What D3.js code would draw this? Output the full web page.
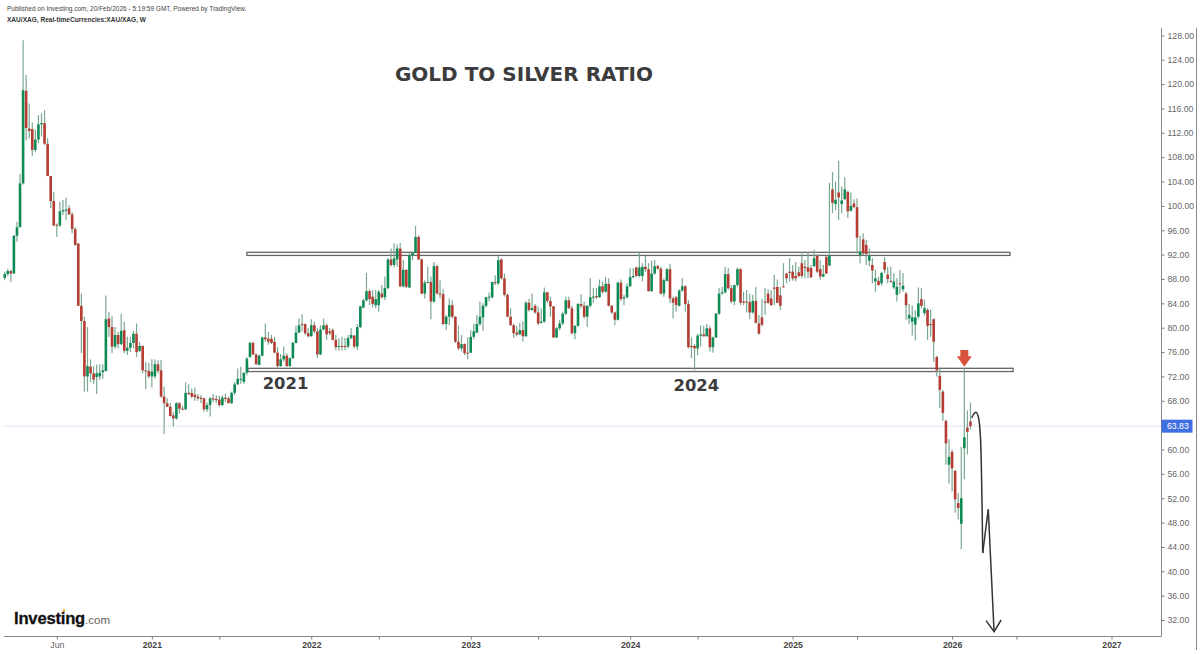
<!DOCTYPE html>
<html>
<head>
<meta charset="utf-8">
<script src="https://cdn.jsdelivr.net/npm/d3@7"></script>
<style>
  html, body { margin: 0; padding: 0; background: #fff; }
  svg { display: block; }
</style>
</head>
<body>
<div id="chart"></div>
<script>
// weekly XAU/XAG candles, first week is 3 Feb 2020
const opens = [
  88.2,88.8,89.3,88.9,95.1,96.5,103.7,118.9,112.7,112.6,
  109.2,110.9,113.4,113.6,110.2,104.9,100.8,96.9,96.8,99.1,
  99.2,99.6,98.6,96.2,93.8,83.6,81.1,72.0,73.6,72.5,
  71.9,72.0,72.7,72.9,81.5,80.1,76.9,78.8,77.3,79.6,
  76.2,76.7,77.5,79.0,76.2,77.0,73.0,72.9,72.0,72.0,
  74.0,73.0,68.7,67.6,67.0,65.6,65.1,67.6,66.7,66.6,
  69.3,69.3,69.0,68.7,68.5,68.4,66.6,67.3,68.4,68.3,
  68.2,67.3,68.5,68.4,67.6,69.3,70.7,71.5,71.1,72.6,
  75.2,77.5,75.6,73.9,75.4,78.4,78.2,78.2,77.7,75.9,
  73.7,74.8,75.4,73.7,75.0,77.5,79.2,80.6,80.6,79.1,
  78.6,80.4,79.4,75.6,79.7,80.4,79.4,79.6,78.0,76.9,
  77.0,77.0,76.9,78.3,78.7,76.9,80.1,83.3,84.5,86.0,
  85.1,83.7,83.7,85.6,85.0,86.5,91.2,90.3,91.2,93.0,
  86.8,89.5,86.6,91.9,92.3,94.9,91.2,85.6,87.4,87.5,
  84.3,90.1,85.6,85.5,80.6,81.8,83.7,81.8,77.7,76.6,
  77.3,75.9,75.9,78.5,79.2,80.6,81.7,83.6,85.0,85.0,
  87.5,87.3,91.2,88.1,85.4,81.8,80.4,79.2,78.9,79.6,
  78.6,84.1,82.9,83.6,82.5,80.8,81.0,85.8,84.4,83.5,
  78.4,79.9,80.7,82.3,84.5,83.2,79.1,80.3,83.9,83.6,
  81.8,83.6,85.0,85.2,85.0,86.8,85.9,87.2,83.6,82.5,
  81.3,87.4,84.8,85.0,86.8,88.3,89.9,88.5,88.5,90.0,
  89.6,86.0,88.9,90.1,89.7,85.6,87.7,89.6,84.8,85.0,
  83.6,86.1,86.8,83.9,77.0,77.0,76.6,78.7,78.9,78.6,
  79.9,76.8,78.4,82.3,85.6,85.8,88.8,86.5,84.3,87.0,
  89.6,84.3,84.3,84.2,82.5,84.4,80.7,81.7,84.3,85.6,
  84.8,86.6,86.7,85.3,86.8,88.9,89.2,89.2,88.5,89.1,
  90.6,90.0,89.9,89.8,90.1,91.8,89.6,88.4,91.6,90.2,
  102.7,100.3,102.2,100.3,101.1,102.3,99.2,100.4,99.8,91.9,
  94.5,93.6,91.0,90.3,87.6,87.7,87.3,90.8,88.7,87.7,
  86.6,85.4,87.3,86.3,85.6,81.5,81.0,80.5,81.8,84.7,
  82.4,82.9,80.6,81.4,75.2,72.1,69.5,64.7,57.5,59.6,
  56.5,51.2,47.8,60.2,63.6,64.6
];
const highs = [
  89.2,89.7,89.5,95.2,97.4,105.3,127.2,121.5,116.8,113.7,
  112.5,114.9,115.2,115.7,111.1,104.9,102.3,97.1,100.7,101.0,
  101.4,100.1,99.0,96.5,93.9,85.6,81.8,80.1,74.8,73.7,
  73.9,74.0,74.0,85.3,82.6,81.9,80.1,79.3,82.3,81.0,
  78.5,78.5,79.5,80.7,77.7,77.1,74.4,74.2,74.8,74.8,
  74.6,74.7,70.3,68.4,67.6,66.2,67.8,67.8,67.2,71.0,
  70.7,70.0,70.2,69.1,68.9,68.5,67.7,68.6,69.1,68.9,
  68.8,68.9,69.2,68.7,69.5,71.1,73.3,73.6,72.7,75.2,
  77.7,77.7,75.8,75.6,78.5,80.7,79.3,78.8,78.5,76.8,
  75.7,76.9,75.8,75.1,77.7,80.3,81.5,82.2,80.7,79.9,
  81.4,81.0,79.9,80.4,81.5,80.6,79.9,79.9,78.8,78.3,
  78.5,78.3,78.8,79.9,78.8,80.6,83.6,84.7,89.0,86.3,
  86.2,86.2,86.2,87.0,88.4,91.4,93.0,93.9,93.7,93.9,
  91.1,89.6,92.2,92.5,96.7,95.2,91.4,87.8,90.0,88.4,
  90.8,90.3,87.8,86.3,82.1,84.8,84.5,81.9,80.3,78.8,
  77.4,78.4,79.6,80.7,82.1,84.3,84.0,85.1,85.8,87.6,
  88.6,91.9,91.4,88.9,85.6,83.2,80.7,80.3,80.8,81.0,
  84.4,84.7,85.6,83.9,83.5,83.2,86.6,85.9,85.1,83.6,
  80.1,81.3,82.6,85.1,85.1,83.6,80.4,84.0,85.5,84.3,
  83.7,88.1,86.5,86.5,87.9,87.6,88.3,88.1,83.7,82.6,
  87.6,87.9,85.4,87.3,89.8,89.8,90.0,92.3,90.6,91.9,
  90.6,91.0,91.1,90.3,90.0,88.1,89.8,90.5,85.1,85.2,
  86.3,88.1,87.0,84.5,78.4,77.3,79.0,80.4,80.3,80.6,
  80.3,78.5,82.4,86.5,86.7,90.0,89.8,87.0,87.1,89.9,
  89.8,85.9,86.2,85.6,85.4,86.7,82.1,84.7,86.5,86.3,
  86.2,88.7,87.9,86.7,90.6,89.0,91.4,90.3,90.8,90.0,
  92.2,91.1,92.3,90.3,92.8,92.1,91.1,90.3,91.8,103.8,
  105.6,104.0,107.4,103.2,104.7,102.5,102.2,101.1,101.2,95.1,
  95.5,94.4,93.0,91.4,89.5,88.4,89.2,91.6,90.0,90.0,
  88.9,88.1,89.5,89.0,85.9,83.9,83.7,82.9,86.6,86.5,
  84.6,83.2,83.0,81.5,75.4,73.3,69.8,64.9,61.7,60.0,
  56.6,52.8,60.4,73.3,66.4,67.7
];
const lows = [
  87.8,88.5,87.5,88.8,94.1,96.5,103.5,110.8,111.1,108.2,
  108.8,110.3,111.4,110.0,104.9,99.6,96.7,94.9,96.5,98.5,
  97.7,98.5,95.5,93.4,83.6,75.8,69.5,69.5,71.1,70.8,
  69.1,71.4,71.6,72.8,78.5,75.8,76.6,76.6,77.1,75.8,
  75.5,76.0,76.6,75.2,76.0,72.5,69.9,71.7,70.2,71.7,
  72.5,68.5,62.5,67.0,65.4,63.8,64.9,65.9,66.4,66.5,
  69.0,68.4,68.0,68.0,67.6,66.2,66.2,65.4,67.8,67.6,
  67.0,67.1,67.8,67.6,67.5,68.9,70.6,70.8,70.8,72.2,
  75.0,75.5,73.9,73.8,75.3,77.7,77.2,77.3,75.8,73.3,
  73.6,74.4,73.6,73.6,74.8,77.4,79.1,79.4,78.8,78.4,
  78.5,79.1,75.0,75.5,79.6,78.0,78.8,77.9,76.3,76.2,
  76.2,76.3,76.6,78.1,76.6,76.3,79.9,83.2,84.3,83.7,
  83.3,83.2,82.6,84.8,84.5,86.3,90.0,89.9,90.0,86.7,
  86.6,86.5,86.5,91.1,92.2,91.1,85.5,84.8,87.3,81.4,
  84.1,85.5,84.8,80.4,79.6,80.4,81.5,77.5,76.3,76.1,
  75.5,74.8,75.8,78.1,79.1,80.3,79.5,83.3,84.3,84.8,
  87.0,87.0,87.9,85.1,81.7,80.3,78.3,78.6,78.8,77.7,
  78.5,82.6,82.8,82.3,80.4,80.7,80.8,84.1,81.8,78.3,
  78.3,79.6,80.4,82.1,83.1,78.9,78.1,80.2,83.2,81.5,
  80.1,83.3,84.0,84.7,84.9,85.6,85.8,83.5,82.3,80.4,
  81.2,84.4,83.7,84.8,86.7,88.1,88.3,88.3,87.6,89.2,
  85.9,85.9,88.7,89.5,85.4,85.1,87.6,84.0,81.5,82.6,
  83.5,85.9,82.6,76.6,75.0,73.0,75.5,76.9,78.5,78.5,
  76.1,75.9,78.3,82.1,85.4,85.6,86.2,84.0,83.7,86.7,
  83.7,83.7,82.5,81.4,82.3,80.7,78.9,80.2,82.1,83.9,
  83.6,83.7,84.0,82.9,86.6,87.3,87.6,87.7,87.6,88.3,
  88.1,88.1,88.1,88.1,90.0,89.0,87.9,88.3,88.8,90.2,
  98.8,99.3,97.7,98.8,101.0,98.0,99.1,99.6,92.2,90.6,
  91.9,90.3,90.1,87.3,85.9,86.9,86.9,89.0,87.3,87.4,
  86.3,84.3,85.6,85.9,81.3,80.6,78.7,77.9,81.5,83.2,
  82.0,78.0,78.5,74.4,72.0,66.8,64.7,57.5,54.4,53.1,
  49.6,48.5,43.6,55.1,59.2,63.3
];
const closes = [
  88.8,89.3,88.9,95.1,96.5,103.7,119.0,112.8,112.3,109.2,
  110.9,113.4,113.6,110.2,104.9,100.8,96.8,96.8,99.1,99.3,
  99.4,98.6,96.2,93.6,83.6,81.1,72.0,73.7,72.5,71.5,
  72.5,72.6,73.0,81.4,80.1,76.9,78.8,77.3,79.5,76.2,
  76.7,77.5,79.0,76.0,77.0,73.0,72.9,72.0,72.8,74.0,
  72.9,68.7,67.6,67.0,65.5,65.1,67.6,66.7,66.6,69.3,
  69.1,68.7,68.6,68.4,68.3,66.6,67.3,68.4,68.2,68.1,
  67.3,68.5,68.3,67.6,69.3,70.7,71.6,71.6,72.6,74.9,
  77.5,75.6,74.0,75.4,78.4,78.1,77.7,77.5,75.9,73.7,
  74.8,75.4,73.7,75.0,77.5,79.2,80.4,80.5,79.1,78.6,
  80.4,79.4,75.6,79.7,80.4,78.9,79.1,78.0,76.8,77.0,
  76.9,76.9,78.3,78.8,76.9,80.1,83.5,84.5,86.0,84.7,
  83.9,84.7,85.9,85.0,86.5,91.2,90.3,91.4,93.0,86.8,
  89.5,86.7,91.9,92.3,94.9,91.2,85.6,87.4,87.5,84.3,
  90.1,85.6,85.5,80.6,81.8,83.7,81.8,77.7,76.6,77.3,
  75.8,75.8,78.5,79.4,80.6,81.8,83.6,85.0,85.1,87.5,
  87.3,91.1,88.1,85.4,81.8,80.4,79.1,78.9,79.6,78.6,
  84.1,82.9,83.2,82.5,80.7,81.0,85.8,84.4,83.5,78.4,
  79.9,80.7,82.3,84.5,83.2,79.1,80.3,83.9,83.6,81.8,
  83.6,85.0,85.1,85.0,86.8,85.9,87.2,83.6,82.5,81.3,
  87.4,84.7,85.0,86.8,88.3,88.5,88.5,89.9,90.0,89.6,
  86.0,88.9,90.1,89.7,85.6,87.8,89.6,84.8,84.1,83.7,
  86.1,86.8,83.9,76.8,76.8,76.6,78.7,78.9,78.6,79.9,
  76.8,78.4,82.3,85.6,85.8,88.8,86.5,84.3,87.0,89.6,
  84.1,84.1,84.2,82.5,84.4,80.8,79.0,80.5,84.1,84.1,
  83.7,86.4,84.1,83.6,86.7,88.1,89.0,88.1,88.1,88.5,
  88.5,89.8,89.2,88.3,91.4,89.2,88.4,88.8,88.9,91.8,
  100.5,101.0,101.4,100.9,102.7,99.1,100.0,99.8,94.8,92.5,
  92.2,92.1,91.8,89.4,88.1,87.0,89.0,89.5,88.0,87.6,
  87.6,86.7,87.2,86.9,83.7,82.1,81.7,81.7,84.0,83.6,
  83.2,80.3,80.5,77.7,73.0,69.8,66.0,61.0,58.8,56.9,
  51.8,50.4,52.0,62.0,62.9,63.83
];

const priceTicks = [128,124,120,116,112,108,104,100,96,92,88,84,80,76,72,68,64,60,56,52,48,44,40,36,32];
// price tick 64 sits under the last price tag, the tag covers it
const yearTicks = ["2021-01-04","2022-01-03","2023-01-02","2024-01-01","2025-01-06","2026-01-05","2027-01-04"];
const midTicks = ["2020-06-01","2021-06-07","2022-06-06","2023-06-05","2024-06-03","2025-06-02","2026-06-01"];
const lastPrice = 63.83;

// annotations, in week numbers and prices
const bandWeeks = [[79, 327.9], [79.3, 328.9]];
const bandPrices = [[92.38, 91.87], [73.33, 72.8]];
const yearNotes = ["2021", "2024"];
const noteWeeks = [91.6, 225.6];
const notePrices = [69.9, 69.6];
const sketchCurve = [[315.4,65.2],[316.2,65.9],[316.9,66.1],[317.6,65.3],[318.2,62.5],[318.6,56],[319,43]];
const sketchZig = [[319,43],[320.8,50.2],[322.7,30.1]];
const sketchHead = [[320.1,31.9],[322.7,30.1],[325,32]];
const arrowWeek = 313;
const arrowPrices = [76.0, 75.3, 73.6];

const width = 1200;
const height = 654;
const axisX = 1161.5;
const axisY = 636.5;
const week = 7 * 24 * 3600 * 1000;
const firstWeek = Date.UTC(2020, 1, 3);
const weekDate = (i) => new Date(firstWeek + i * week);

const x = d3.scaleUtc()
  .domain([weekDate(0), new Date("2027-01-04")])
  .range([4.7, 1111.5]);

const y = d3.scaleLinear()
  .domain([32, 128])
  .range([620, 35.4]);

const svg = d3.select('#chart')
  .append('svg')
  .attr('width', width)
  .attr('height', height);

const sans = "'Liberation Sans', Arial, sans-serif";

svg.append('text').attr('x', 7).attr('y', 10.5)
  .attr('font-family', sans).attr('font-size', 6.5).attr('fill', '#444')
  .text('Published on Investing.com, 20/Feb/2026 - 5:19:59 GMT, Powered by TradingView.');
svg.append('text').attr('x', 7).attr('y', 21.5)
  .attr('font-family', sans).attr('font-size', 6.55).attr('font-weight', 'bold').attr('fill', '#333')
  .text('XAU/XAG, Real-timeCurrencies:XAU/XAG, W');

// last price line
svg.append('line')
  .attr('x1', 4).attr('x2', axisX)
  .attr('y1', y(lastPrice)).attr('y2', y(lastPrice))
  .attr('stroke', '#c3cdf2').attr('stroke-width', 1).attr('stroke-dasharray', '1,1');

// support and resistance boxes
svg.append('g').selectAll('rect')
  .data(bandWeeks)
  .join('rect')
  .attr('x', d => x(weekDate(d[0])))
  .attr('width', d => x(weekDate(d[1])) - x(weekDate(d[0])))
  .attr('y', (d, i) => y(bandPrices[i][0]))
  .attr('height', (d, i) => y(bandPrices[i][1]) - y(bandPrices[i][0]))
  .attr('fill', '#fff')
  .attr('stroke', '#666')
  .attr('stroke-width', 1.3);

// candles
const candles = d3.range(closes.length);
const upColor = '#0e8a55';
const downColor = '#b43c32';

svg.append('g').selectAll('line')
  .data(candles)
  .join('line')
  .attr('x1', i => x(weekDate(i)))
  .attr('x2', i => x(weekDate(i)))
  .attr('y1', i => y(highs[i]))
  .attr('y2', i => y(lows[i]))
  .attr('stroke', '#7ba892')
  .attr('stroke-width', 1.2);

svg.append('g').selectAll('rect')
  .data(candles)
  .join('rect')
  .attr('x', i => x(weekDate(i)) - 1.3)
  .attr('width', 2.6)
  .attr('y', i => y(Math.max(opens[i], closes[i])))
  .attr('height', i => Math.max(1, Math.abs(y(opens[i]) - y(closes[i]))))
  .attr('fill', i => closes[i] >= opens[i] ? upColor : downColor);

// axes
const yAxis = d3.axisRight(y)
  .tickValues(priceTicks.filter(d => d !== 64))
  .tickFormat(d3.format('.2f'))
  .tickSize(3)
  .tickPadding(3);

const yAxisG = svg.append('g')
  .attr('transform', `translate(${axisX}, 0)`)
  .call(yAxis);
yAxisG.select('.domain').remove();
yAxisG.selectAll('line').attr('stroke', '#777');
yAxisG.selectAll('text').attr('font-family', sans).attr('font-size', 8.7).attr('fill', '#666');

const xAxis = d3.axisBottom(x)
  .tickValues(yearTicks.concat(midTicks).map(d => new Date(d)))
  .tickFormat(d => {
    const iso = d.toISOString().slice(0, 10);
    if (yearTicks.includes(iso)) return d.getUTCFullYear();
    return iso === midTicks[0] ? 'Jun' : '';
  })
  .tickSize(3)
  .tickPadding(2);

const xAxisG = svg.append('g')
  .attr('transform', `translate(0, ${axisY})`)
  .call(xAxis);
xAxisG.select('.domain').remove();
xAxisG.selectAll('line').attr('stroke', '#777');
xAxisG.selectAll('text')
  .attr('font-family', sans)
  .attr('font-size', 8.7)
  .attr('font-weight', d => d.toISOString().slice(0, 10) === midTicks[0] ? 'normal' : 'bold')
  .attr('fill', d => d.toISOString().slice(0, 10) === midTicks[0] ? '#666' : '#444');

svg.append('line').attr('x1', 4).attr('x2', axisX).attr('y1', axisY).attr('y2', axisY)
  .attr('stroke', '#888').attr('stroke-width', 1);
svg.append('line').attr('x1', axisX).attr('x2', axisX).attr('y1', 28).attr('y2', axisY)
  .attr('stroke', '#888').attr('stroke-width', 1);
svg.append('line').attr('x1', 1196.5).attr('x2', 1196.5).attr('y1', 28).attr('y2', 650)
  .attr('stroke', '#888').attr('stroke-width', 1);

// last price tag
svg.append('rect')
  .attr('x', axisX).attr('width', 31)
  .attr('y', y(lastPrice) - 6.5).attr('height', 13)
  .attr('fill', '#3f6fe0');
svg.append('text')
  .attr('x', axisX + 5.5).attr('y', y(lastPrice) + 3.2)
  .attr('font-family', sans).attr('font-size', 8.7).attr('fill', '#fff')
  .text(d3.format('.2f')(lastPrice));

// title and year notes
const heavy = "'DejaVu Sans', Verdana, sans-serif";
svg.append('text')
  .attr('x', 524).attr('y', 81)
  .attr('text-anchor', 'middle')
  .attr('font-family', heavy).attr('font-size', 20).attr('font-weight', 'bold')
  .attr('fill', '#3c3c3c')
  .text('GOLD TO SILVER RATIO');

svg.append('g').selectAll('text')
  .data(yearNotes)
  .join('text')
  .attr('x', (d, i) => x(weekDate(noteWeeks[i])))
  .attr('y', (d, i) => y(notePrices[i]))
  .attr('text-anchor', 'middle')
  .attr('font-family', heavy).attr('font-size', 16.4).attr('font-weight', 'bold')
  .attr('fill', '#3c3c3c')
  .text(d => d);

// red arrow over the rejection candle
const ax = x(weekDate(arrowWeek));
svg.append('path')
  .attr('d', `M${ax - 4},${y(arrowPrices[0]) - 2}H${ax + 4}V${y(arrowPrices[1])}H${ax + 7.5}L${ax},${y(arrowPrices[2])}L${ax - 7.5},${y(arrowPrices[1])}H${ax - 4}Z`)
  .attr('fill', '#d9533b');

// hand drawn path
const line = d3.line().x(d => x(weekDate(d[0]))).y(d => y(d[1]));
const drawn = svg.append('g').attr('fill', 'none').attr('stroke', '#333').attr('stroke-width', 1.5);
drawn.append('path').attr('d', line.curve(d3.curveCatmullRom)(sketchCurve));
drawn.append('path').attr('d', line.curve(d3.curveLinear)(sketchZig));
drawn.append('path').attr('d', line.curve(d3.curveLinear)(sketchHead));

// logo
const logo = svg.append('text').attr('x', 14).attr('y', 623.5).attr('font-family', sans);
logo.append('tspan').attr('font-size', 16.6).attr('font-weight', 'bold').attr('letter-spacing', -0.2)
  .attr('fill', '#111').attr('stroke', '#111').attr('stroke-width', 0.3).text('Investing');
logo.append('tspan').attr('font-size', 11.6).attr('fill', '#666').text('.com');
svg.append('circle').attr('cx', 64).attr('cy', 610.5).attr('r', 1.2).attr('fill', '#f39c12');
</script>
</body>
</html>
